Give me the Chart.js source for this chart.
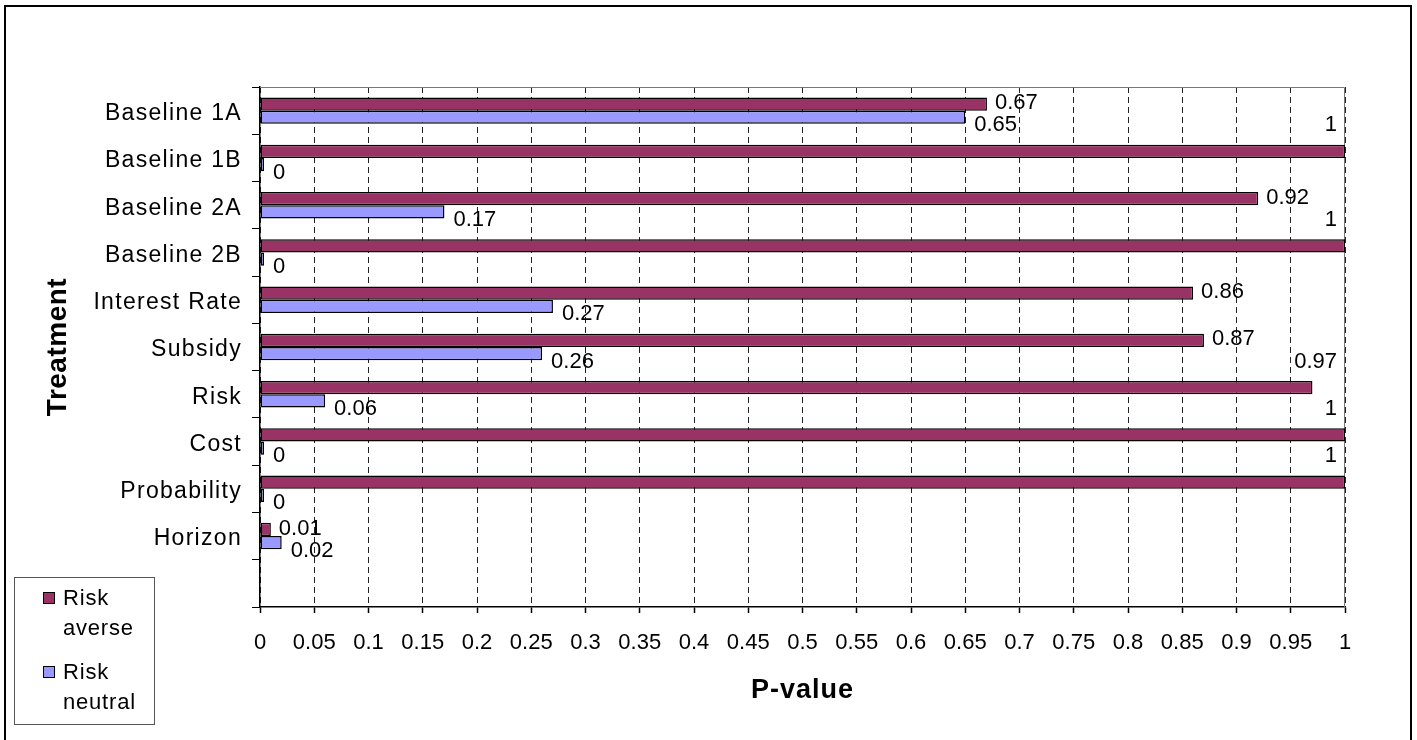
<!DOCTYPE html>
<html>
<head>
<meta charset="utf-8">
<title>P-value by treatment</title>
<script src="https://cdn.jsdelivr.net/npm/chart.js@4.4.1/dist/chart.umd.min.js"></script>
<style>
  html, body { margin: 0; padding: 0; background: #ffffff; }
  canvas { display: block; }
</style>
</head>
<body>
<canvas id="chart" width="1417" height="740"></canvas>
<script>
// Treatments (the last slot is an empty row below "Horizon")
const categories = ['Baseline 1A', 'Baseline 1B', 'Baseline 2A', 'Baseline 2B', 'Interest Rate',
                    'Subsidy', 'Risk', 'Cost', 'Probability', 'Horizon', ''];
const riskAverse  = [0.67, 1, 0.92, 1, 0.86, 0.87, 0.97, 1, 1, 0.01, null];
const riskNeutral = [0.65, 0, 0.17, 0, 0.27, 0.26, 0.06, 0, 0, 0.02, null];
const seriesNames = ['Risk averse', 'Risk neutral'];
const seriesColors = ['#993366', '#9999FF'];
const xTickLabels = ['0', '0.05', '0.1', '0.15', '0.2', '0.25', '0.3', '0.35', '0.4', '0.45', '0.5',
                     '0.55', '0.6', '0.65', '0.7', '0.75', '0.8', '0.85', '0.9', '0.95', '1'];

const FONT = '"Liberation Sans", Arial, Helvetica, sans-serif';
Chart.defaults.font.family = FONT;
Chart.defaults.color = '#000';

// Run a scale drawing method with a given canvas letter spacing
function spaced(fn, spacing) {
  return function (...args) {
    const ctx = this.ctx;
    const prev = ctx.letterSpacing;
    ctx.letterSpacing = spacing;
    try { return fn.apply(this, args); } finally { ctx.letterSpacing = prev; }
  };
}

const letterSpacing = {
  id: 'letterSpacing',
  beforeDraw(chart) {
    const { x, y } = chart.scales;
    if (!y.__spaced) {
      y.drawLabels = spaced(y.drawLabels, '1.3px');
      y.drawTitle = spaced(y.drawTitle, '0.5px');
      y.__spaced = true;
    }
    if (!x.__spaced) {
      x.drawTitle = spaced(x.drawTitle, '1px');
      x.__spaced = true;
    }
  }
};

// White page with a frame around the whole chart
const pageFrame = {
  id: 'pageFrame',
  beforeDraw(chart) {
    const ctx = chart.ctx;
    ctx.save();
    ctx.fillStyle = '#ffffff';
    ctx.fillRect(0, 0, chart.width, chart.height);
    ctx.strokeStyle = '#000';
    ctx.lineWidth = 2;
    ctx.strokeRect(5, 6, chart.width - 11, chart.height + 20);
    ctx.restore();
  }
};

// Thin border around the plot area
const plotFrame = {
  id: 'plotFrame',
  beforeDatasetsDraw(chart) {
    const { ctx, chartArea: a } = chart;
    ctx.save();
    ctx.strokeStyle = '#777';
    ctx.lineWidth = 1;
    ctx.beginPath();
    ctx.moveTo(a.left, a.top + 0.5);
    ctx.lineTo(a.right - 0.5, a.top + 0.5);
    ctx.lineTo(a.right - 0.5, a.bottom);
    ctx.stroke();
    ctx.restore();
  }
};

// Value labels next to bar ends
const barValueLabels = {
  id: 'barValueLabels',
  afterDatasetsDraw(chart) {
    const { ctx, chartArea } = chart;
    ctx.save();
    ctx.font = '22px ' + FONT;
    ctx.fillStyle = '#000';
    ctx.textBaseline = 'middle';
    chart.data.datasets.forEach((ds, di) => {
      const meta = chart.getDatasetMeta(di);
      meta.data.forEach((bar, i) => {
        const v = ds.data[i];
        if (v === null || v === undefined) return;
        const text = String(v);
        const w = ctx.measureText(text).width;
        let x = bar.x + (di === 0 ? 8 : 9);
        let y = bar.y + (di === 0 ? -1 : 8);
        let align = 'left';
        if (x + w > chartArea.right) {
          x = chartArea.right - 8;
          y = bar.y - 26;
          align = 'right';
        }
        ctx.textAlign = align;
        ctx.fillText(text, x, y);
      });
    });
    ctx.restore();
  }
};

// Boxed legend in the lower-left corner, names wrapped onto two lines
const boxLegend = {
  id: 'boxLegend',
  afterDraw(chart) {
    const ctx = chart.ctx;
    ctx.save();
    ctx.strokeStyle = '#555';
    ctx.lineWidth = 1;
    ctx.strokeRect(14.5, 577.5, 140, 147);
    ctx.font = '22px ' + FONT;
    ctx.textAlign = 'left';
    ctx.textBaseline = 'alphabetic';
    ctx.letterSpacing = '0.8px';
    chart.data.datasets.forEach((ds, i) => {
      const top = 592 + i * 74;
      ctx.fillStyle = ds.backgroundColor;
      ctx.fillRect(43, top, 12, 12);
      ctx.strokeStyle = '#000';
      ctx.strokeRect(43.5, top + 0.5, 11, 11);
      ctx.fillStyle = '#000';
      ds.label.split(' ').forEach((word, k) => {
        ctx.fillText(word, 63, top + 13 + k * 30);
      });
    });
    ctx.restore();
  }
};

const barStyle = {
  borderColor: '#000',
  borderWidth: 1.5,
  borderSkipped: false,
  minBarLength: 4,
  categoryPercentage: 0.56,
  barPercentage: 1.0
};

new Chart(document.getElementById('chart'), {
  type: 'bar',
  data: {
    labels: categories,
    datasets: [
      Object.assign({ label: seriesNames[0], data: riskAverse, backgroundColor: seriesColors[0] }, barStyle),
      Object.assign({ label: seriesNames[1], data: riskNeutral, backgroundColor: seriesColors[1] }, barStyle)
    ]
  },
  options: {
    indexAxis: 'y',
    responsive: false,
    animation: false,
    layout: { padding: { left: 37, top: 87, right: 72, bottom: 29 } },
    plugins: {
      legend: { display: false },
      tooltip: { enabled: false }
    },
    scales: {
      x: {
        type: 'linear',
        position: 'bottom',
        min: 0,
        max: 1,
        ticks: {
          stepSize: 0.05,
          autoSkip: false,
          maxRotation: 0,
          padding: 17,
          color: '#000',
          font: { size: 22 },
          callback: (value, index) => xTickLabels[index]
        },
        grid: {
          color: '#222',
          lineWidth: 1,
          drawOnChartArea: true,
          tickLength: 6,
          tickColor: '#000',
          tickWidth: 1.5
        },
        border: { display: true, color: '#000', width: 1.5, dash: [6, 4] },
        title: {
          display: true,
          text: 'P-value',
          color: '#000',
          font: { size: 27, weight: 'bold' },
          padding: { top: 4, bottom: 4 }
        },
        afterFit: (scale) => { scale.height = 104; }
      },
      y: {
        type: 'category',
        position: 'left',
        ticks: { autoSkip: false, padding: 10, labelOffset: 3, color: '#000', font: { size: 23 } },
        grid: {
          display: true,
          drawOnChartArea: false,
          offset: true,
          tickLength: 8,
          color: '#000',
          lineWidth: 1
        },
        border: { display: true, color: '#000', width: 1.5 },
        title: {
          display: true,
          text: 'Treatment',
          color: '#000',
          font: { size: 28, weight: 'bold' },
          padding: { top: 4, bottom: 4 }
        },
        afterFit: (scale) => { scale.width = 223; }
      }
    }
  },
  plugins: [pageFrame, letterSpacing, plotFrame, barValueLabels, boxLegend]
});
</script>
</body>
</html>
